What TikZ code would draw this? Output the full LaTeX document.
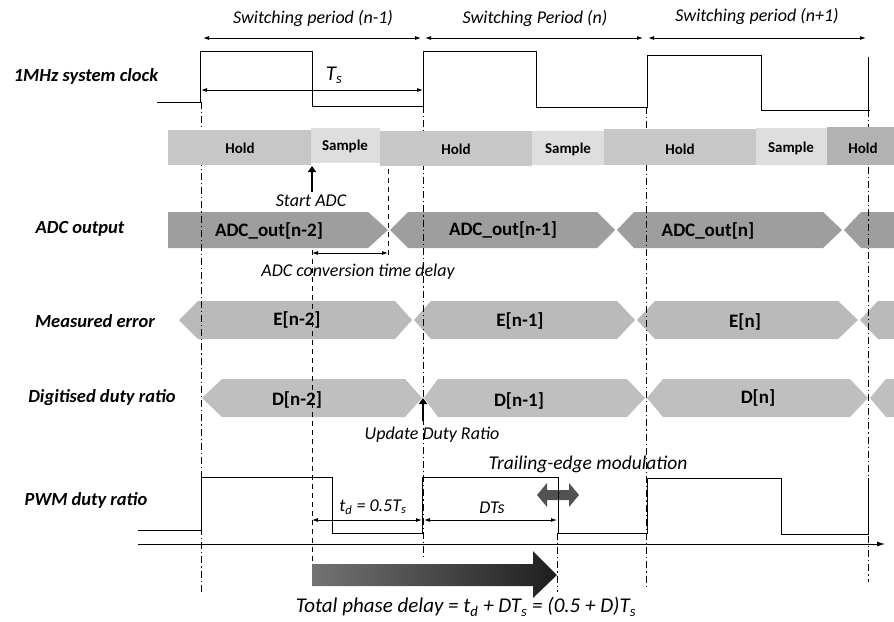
\documentclass[tikz,border=0pt]{standalone}
\usepackage{fontspec}
\setmainfont{Carlito}
\usetikzlibrary{arrows.meta}
\tikzset{
  lbl/.style={font=\fontsize{18.5}{20}\selectfont\bfseries\itshape},
  itl/.style={font=\fontsize{18}{20}\selectfont\itshape},
  seg/.style={font=\fontsize{15}{17}\selectfont\bfseries},
  bartxt/.style={font=\fontsize{19}{21}\selectfont\bfseries},
  wave/.style={line width=0.9pt},
  dimarr/.style={line width=0.9pt,{Latex[length=6pt,width=4pt]}-{Latex[length=6pt,width=4pt]}},
  thickarr/.style={line width=2.2pt,-{Triangle[length=6pt,width=8pt]}},
  dashdot/.style={line width=0.8pt,dash pattern=on 7pt off 3pt on 1.2pt off 3pt},
  guidedash/.style={line width=1pt},
}
\newcommand\sigbar[7]{\fill[#7] (#1,{(#5+#6)/2}) -- (#2,#5) -- (#3,#5) -- (#4,{(#5+#6)/2}) -- (#3,#6) -- (#2,#6) -- cycle;}
\newcommand\sub[1]{\textsubscript{#1}}
\newcommand\vdashes[3]{\foreach \k [evaluate=\k as \yy using #2+9*\k] in {0,...,#3} {\draw[guidedash] (#1,\yy) -- (#1,{\yy+5});}}
\begin{document}
\begin{tikzpicture}[x=1pt,y=-1pt]
\useasboundingbox (0,0) rectangle (894,621);
\fill[white] (0,0) rectangle (894,621);

% switching periods
\coordinate (p0) at (203,38); \coordinate (p1) at (421,38);
\coordinate (p2) at (425,38); \coordinate (p3) at (643,38);
\coordinate (p4) at (648,38); \coordinate (p5) at (866,38);
\draw[dimarr] (p0) -- (p1);
\draw[dimarr] (p2) -- (p3);
\draw[dimarr] (p4) -- (p5);
\node[itl] (sp1) at (313,18) {Switching period (n-1)};
\node[itl] (sp2) at (535,18) {Switching Period (n)};
\node[itl] (sp3) at (757,16) {Switching period (n+1)};

% clock
\node[lbl] (clk) at (86,76) {1MHz system clock};
\draw[wave] (157,102) -- (200,102) -- (200,51) -- (312,51) -- (312,106) -- (423,106) -- (423,51) -- (536,51) -- (536,107) -- (647,107) -- (647,55) -- (761,55) -- (761,110) -- (870,110);
\draw[wave] (868,57) -- (868,110);
\coordinate (ts0) at (201,90); \coordinate (ts1) at (423,90);
\draw[dimarr] (ts0) -- (ts1);
\node[itl,font=\fontsize{21}{23}\selectfont\itshape] (ts) at (334,75) {T\sub{s}};

% ADC output
\node[lbl] (adcl) at (80,229) {ADC output};
\sigbar{168}{168}{368}{388}{212}{248}{black!38}
\sigbar{390}{408}{597}{615}{212}{248}{black!38}
\sigbar{617}{634}{823}{842}{212}{248}{black!38}
\sigbar{844}{861}{900}{900}{212}{248}{black!38}
\node[bartxt] (a2) at (269,231) {ADC\_out[n-2]};
\node[bartxt] (a1) at (503,230) {ADC\_out[n-1]};
\node[bartxt] (a0) at (708,231) {ADC\_out[n]};

% measured error
\node[lbl] (mel) at (95,321) {Measured error};
\sigbar{179}{198}{395}{412}{301}{339}{black!27}
\sigbar{414}{431}{617}{635}{301}{339}{black!27}
\sigbar{637}{655}{838}{858}{301}{339}{black!27}
\sigbar{860}{878}{900}{900}{301}{339}{black!27}
\node[bartxt] (e2) at (297,320) {E[n-2]};
\node[bartxt] (e1) at (520,321) {E[n-1]};
\node[bartxt] (e0) at (745,322) {E[n]};

% digitised duty ratio
\node[lbl] (ddl) at (102,398) {Digitised duty ratio};
\sigbar{202}{222}{405}{422}{379}{417}{black!25}
\sigbar{424}{438}{627}{645}{379}{417}{black!25}
\sigbar{647}{663}{850}{868}{379}{417}{black!25}
\sigbar{870}{886}{900}{900}{379}{417}{black!25}
\node[bartxt] (d2) at (297,400) {D[n-2]};
\node[bartxt] (d1) at (519,401) {D[n-1]};
\node[bartxt] (d0) at (758,398) {D[n]};

% guides (over the signal bars, under the hold/sample bar)
\draw[dashdot] (201,102) -- (201,592);
\draw[dashdot] (423,106) -- (423,557);
\draw[dashdot] (646,107) -- (646,586);
\draw[dashdot] (868,110) -- (868,582);
\vdashes{312}{250}{36}
\vdashes{388}{160}{10}
\draw[dashdot] (557,533) -- (557,592);

% hold / sample
\fill[black!22] (168,130) rectangle (311,165);
\fill[black!13] (311,128) rectangle (380,163);
\fill[black!22] (380,131) rectangle (532,166);
\fill[black!13] (532,131) rectangle (604,165);
\fill[black!22] (604,129) rectangle (756,165);
\fill[black!13] (756,128) rectangle (827,165);
\fill[black!30] (827,127) rectangle (894,165);
\node[seg] (h1) at (240,148) {Hold};
\node[seg] (s1) at (345,146) {Sample};
\node[seg] (h2) at (456,149) {Hold};
\node[seg] (s2) at (568,149) {Sample};
\node[seg] (h3) at (680,149) {Hold};
\node[seg] (s3) at (791,148) {Sample};
\node[seg] (h4) at (863,148) {Hold};

% start ADC
\coordinate (sa0) at (312,192); \coordinate (sa1) at (312,166);
\draw[thickarr] (sa0) -- (sa1);
\node[itl] (sadc) at (311,201) {Start ADC};

% ADC conversion delay
\coordinate (cd0) at (312,253); \coordinate (cd1) at (388,253);
\draw[dimarr] (cd0) -- (cd1);
\node[itl] (cdl) at (358,272) {ADC conversion time delay};

% update duty ratio
\coordinate (ud0) at (423,421); \coordinate (ud1) at (423,398);
\draw[thickarr] (ud0) -- (ud1);
\node[itl] (udl) at (432,435) {Update Duty Ratio};

% PWM
\node[lbl] (pwml) at (86,500) {PWM duty ratio};
\draw[wave] (138,530) -- (201,530) -- (201,477) -- (332,477) -- (332,533) -- (422,533) -- (422,477) -- (558,477) -- (558,533) -- (647,533) -- (647,478) -- (781,478) -- (781,534) -- (868,534) -- (868,478);
\coordinate (ax0) at (138,544); \coordinate (ax1) at (885,544);
\draw[line width=0.9pt,-{Latex[length=8pt,width=5pt]}] (ax0) -- (ax1);
\coordinate (td0) at (312,520); \coordinate (td1) at (422,520);
\coordinate (dt0) at (424,520); \coordinate (dt1) at (557,520);
\draw[dimarr] (td0) -- (td1);
\draw[dimarr] (dt0) -- (dt1);
\node[itl] (tdl) at (373,507) {t\sub{d} = 0.5T\sub{s}};
\node[itl] (dtl) at (492,508) {DTs};
\node[font=\fontsize{19.5}{21}\selectfont\itshape] (tem) at (588,464) {Trailing-edge modulation};
\fill[black!68] (537,495) -- (547,483) -- (547,490) -- (569,490) -- (569,483) -- (579,495) -- (569,507) -- (569,500) -- (547,500) -- (547,507) -- cycle;
\draw[wave] (558,477) -- (558,533);

% total phase delay arrow
\shade[left color=black!55, right color=black!88] (312,564) -- (533,564) -- (533,551) -- (557,575) -- (533,598) -- (533,586) -- (312,586) -- cycle;
\node[font=\fontsize{21}{23}\selectfont\itshape] (tpd) at (466,607) {Total phase delay = t\sub{d} + DT\sub{s} = (0.5 + D)T\sub{s}};
\end{tikzpicture}
\end{document}
